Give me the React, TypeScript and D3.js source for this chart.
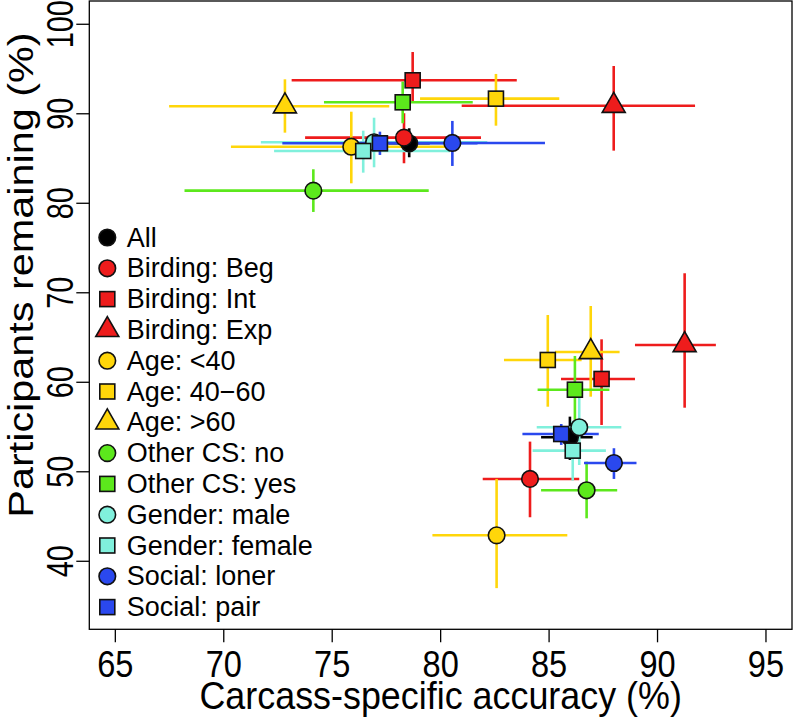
import React from "react";
import * as d3 from "d3";

// ---- data ----
const groups = [
  "All", "Birding: Beg", "Birding: Int", "Birding: Exp",
  "Age: <40", "Age: 40\u221260", "Age: >60",
  "Other CS: no", "Other CS: yes",
  "Gender: male", "Gender: female",
  "Social: loner", "Social: pair",
];
const shapes = ["circle", "circle", "square", "triangle", "circle", "square", "triangle", "circle", "square", "circle", "square", "circle", "square"];
const colors = ["#000000", "#EE1C1C", "#EE1C1C", "#EE1C1C", "#FFD60A", "#FFD60A", "#FFD60A", "#5CE81C", "#5CE81C", "#80F0DC", "#80F0DC", "#2A48EE", "#2A48EE"];

// upper cluster
const upX = [78.55, 78.31, 78.71, 87.98, 75.88, 82.55, 72.82, 74.13, 78.25, 76.93, 76.43, 80.54, 77.2];
const upXLo = [77.6, 73.75, 73.13, 80.97, 70.33, 79.05, 67.48, 68.19, 74.62, 71.71, 72.32, 76.27, 72.7];
const upXHi = [79.5, 81.86, 83.51, 91.73, 80.2, 85.47, 77.63, 79.45, 81.48, 82.15, 80.43, 84.81, 81.7];
const upY = [86.7, 87.33, 93.74, 90.9, 86.32, 91.69, 90.84, 81.41, 91.28, 86.82, 85.84, 86.74, 86.7];
const upYLo = [85.14, 84.47, 91.35, 85.88, 82.23, 88.67, 87.89, 79.03, 88.94, 84.02, 83.42, 84.17, 85.4];
const upYHi = [88.38, 90.06, 96.9, 95.34, 90.23, 94.45, 93.85, 83.8, 93.59, 89.56, 88.11, 89.2, 88.0];

// lower cluster
const loX = [85.96, 84.12, 87.42, 91.25, 82.58, 84.94, 86.92, 86.73, 86.19, 86.39, 86.09, 87.99, 85.56];
const loXLo = [84.63, 81.94, 85.55, 88.96, 79.62, 82.92, 85.27, 84.63, 84.47, 84.43, 84.24, 86.61, 83.77];
const loXHi = [87.01, 86.39, 88.96, 92.69, 85.84, 86.5, 88.25, 88.14, 87.78, 88.33, 87.62, 89.03, 87.29];
const loY = [53.85, 49.2, 60.37, 64.17, 42.9, 62.49, 63.39, 47.93, 59.17, 54.97, 52.36, 50.98, 54.22];
const loYLo = [51.32, 44.92, 55.23, 57.16, 37.0, 57.27, 58.39, 44.8, 55.8, 50.76, 49.02, 49.2, 53.0];
const loYHi = [56.16, 53.37, 64.8, 72.18, 49.2, 67.52, 68.52, 51.13, 62.94, 58.77, 55.7, 52.63, 55.34];

const xTicks = [65, 70, 75, 80, 85, 90, 95];
const yTicks = [40, 50, 60, 70, 80, 90, 100];
const xLimits = [65, 95];
const yLimits = [35, 100];

// ---- layout ----
const W = 796, H = 718;
const box = { left: 89.3, right: 792, top: 1, bottom: 629.3 };
const FONT = "'Liberation Sans', Arial, Helvetica, sans-serif";

function pad(lim: number[]) {
  const d = (lim[1] - lim[0]) * 0.04;
  return [lim[0] - d, lim[1] + d];
}

const x = d3.scaleLinear().domain(pad(xLimits)).range([box.left, box.right]);
const y = d3.scaleLinear().domain(pad(yLimits)).range([box.bottom, box.top]);

function Marker({ shape, cx, cy, fill }: { shape: string; cx: number; cy: number; fill: string }) {
  const stroke = "#111";
  const sw = 1.6;
  if (shape === "circle") return <circle cx={cx} cy={cy} r={8.3} fill={fill} stroke={stroke} strokeWidth={sw} />;
  if (shape === "square") {
    const s = 15;
    return <rect x={cx - s / 2} y={cy - s / 2} width={s} height={s} fill={fill} stroke={stroke} strokeWidth={sw} />;
  }
  const side = 23, h = 20;
  const pts = [[cx, cy - (2 * h) / 3], [cx - side / 2, cy + h / 3], [cx + side / 2, cy + h / 3]];
  return <polygon points={pts.map((p) => p.join(",")).join(" ")} fill={fill} stroke={stroke} strokeWidth={sw} strokeLinejoin="miter" />;
}

export default function App() {
  const sets = [
    { X: upX, XL: upXLo, XH: upXHi, Y: upY, YL: upYLo, YH: upYHi },
    { X: loX, XL: loXLo, XH: loXHi, Y: loY, YL: loYLo, YH: loYHi },
  ];
  const legendX = 107.3, legendTextX = 126.7, legendY0 = 237.5, legendStep = 30.8;

  return (
    <svg width={W} height={H} style={{ position: "absolute", left: 0, top: 0, background: "#fff" }} fontFamily={FONT}>
      <rect x={0} y={0} width={W} height={H} fill="#fff" />
      {/* error bars */}
      {groups.map((g, i) => (
        <g key={"eb" + i}>
          {sets.map((s, k) => (
            <g key={k} stroke={colors[i]} strokeWidth={2.6}>
              <line x1={x(s.XL[i])} x2={x(s.XH[i])} y1={y(s.Y[i])} y2={y(s.Y[i])} />
              <line x1={x(s.X[i])} x2={x(s.X[i])} y1={y(s.YL[i])} y2={y(s.YH[i])} />
            </g>
          ))}
        </g>
      ))}
      {/* points */}
      {groups.map((g, i) => (
        <g key={"pt" + i}>
          {sets.map((s, k) => (
            <Marker key={k} shape={shapes[i]} cx={x(s.X[i])} cy={y(s.Y[i])} fill={colors[i]} />
          ))}
        </g>
      ))}
      {/* box */}
      <rect x={box.left} y={box.top} width={box.right - box.left} height={box.bottom - box.top} fill="none" stroke="#000" strokeWidth={1.3} />
      {/* x axis */}
      {xTicks.map((t) => (
        <g key={"xt" + t}>
          <line x1={x(t)} x2={x(t)} y1={box.bottom} y2={box.bottom + 13} stroke="#000" strokeWidth={1.3} />
          <text transform={`translate(${x(t)},${box.bottom + 48}) scale(0.88,1)`} textAnchor="middle" fontSize={37}>{t}</text>
        </g>
      ))}
      {/* y axis */}
      {yTicks.map((t) => (
        <g key={"yt" + t}>
          <line x1={box.left} x2={box.left - 13} y1={y(t)} y2={y(t)} stroke="#000" strokeWidth={1.3} />
          <text transform={`translate(${box.left - 16},${y(t)}) rotate(-90) scale(0.78,1)`} textAnchor="middle" fontSize={37}>{t}</text>
        </g>
      ))}
      <text transform={`translate(${(box.left + box.right) / 2},709) scale(0.92,1)`} textAnchor="middle" fontSize={39}>Carcass-specific accuracy (%)</text>
      <text transform={`translate(33,275) rotate(-90) scale(1.15,1)`} textAnchor="middle" fontSize={36}>Participants remaining (%)</text>
      {/* legend */}
      {groups.map((g, i) => (
        <g key={"lg" + i}>
          <Marker shape={shapes[i]} cx={legendX} cy={legendY0 + i * legendStep} fill={colors[i]} />
          <text x={legendTextX} y={legendY0 + i * legendStep} dominantBaseline="central" fontSize={27}>{g}</text>
        </g>
      ))}
    </svg>
  );
}
